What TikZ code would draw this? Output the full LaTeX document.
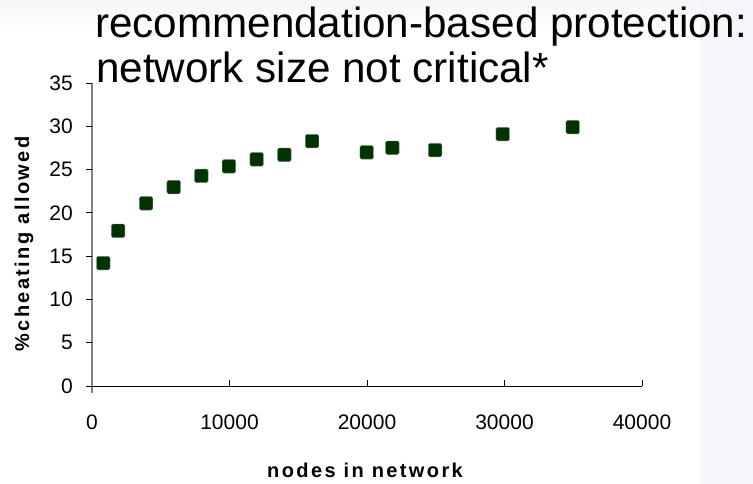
\documentclass[tikz,border=0pt]{standalone}
\usepackage{fontspec}
\setmainfont{Liberation Sans}
\newfontfamily\boldtrack[LetterSpace=12]{Liberation Sans Bold}
\definecolor{slidebg}{RGB}{245,246,249}
\definecolor{markgreen}{RGB}{0,51,0}
\definecolor{axisgray}{RGB}{128,128,128}
\tikzset{
  titletext/.style={anchor=base west, inner sep=0pt, font=\fontsize{42.2}{46}\selectfont},
  ticklab/.style={inner sep=0pt, font=\fontsize{21}{24}\selectfont},
  axistitle/.style={inner sep=0pt, font=\fontsize{20}{23}\boldtrack},
  datamark/.style={rectangle, minimum size=13.5pt, inner sep=0pt, fill=markgreen, draw=markgreen!60!white, line width=0.4pt, rounded corners=1.5pt},
}
\begin{document}
\begin{tikzpicture}[x=1pt,y=-1pt]
\useasboundingbox (0,0) rectangle (753,484);
% background
\fill[slidebg] (0,0) rectangle (753,484);
\shade[left color=slidebg, right color=white, shading angle=0] (0,0) rectangle (700,35);
\fill[white] (0,35) rectangle (700,484);
% title
\node[titletext] (title1) at (95,38) {recommendation-based protection:};
\node[titletext] (title2) at (96,83) {network size not critical*};
% plot area: x in thousands, y in percent
\begin{scope}[shift={(92,386)}, x=13.75pt, y=8.657pt]
  \coordinate (yaxtop) at (0,35);
  \coordinate (yaxbot) at ([yshift=-6.5pt]0,0);
  \coordinate (xaxl) at ([xshift=-6pt]0,0);
  \coordinate (xaxr) at (40,0);
  \draw[axisgray, line width=1.3pt] (yaxtop) -- (yaxbot);
  \draw[black, line width=1pt] (xaxl) -- (xaxr);
  \foreach \v in {5,10,...,35}
    \draw[black, line width=0.9pt] ([xshift=-6pt]0,\v) -- (0,\v);
  \foreach \v in {0,5,...,35}
    \node[ticklab, anchor=east] (yl\v) at ([xshift=-19pt]0,\v) {\v};
  \foreach \v in {10,20,30,40}
    \draw[black, line width=0.9pt] (\v,0) -- ([yshift=6pt]\v,0);
  \foreach \v/\t in {0/0,10/10000,20/20000,30/30000,40/40000}
    \node[ticklab] (xl\v) at ([yshift=-36pt]\v,0) {\t};
  \foreach \i/\x/\y in {1/0.82/14.2, 2/1.9/17.93, 3/3.93/21.1, 4/5.94/22.98, 5/7.95/24.28,
                        6/9.96/25.37, 7/11.98/26.18, 8/13.99/26.71, 9/16/28.29, 10/19.98/26.99,
                        11/21.84/27.52, 12/24.95/27.25, 13/29.87/29.1, 14/34.96/29.9}
    \node[datamark] (m\i) at (\x,\y) {};
\end{scope}
% axis titles
\node[axistitle, rotate=90] (ylab) at (24,244) {\%cheating allowed};
\node[axistitle] (xlab) at (365,470) {nodes in network};
\end{tikzpicture}
\end{document}
